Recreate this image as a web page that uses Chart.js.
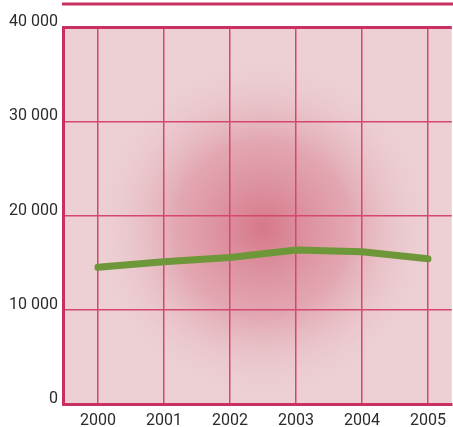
<!DOCTYPE html>
<html>
<head>
<meta charset="utf-8">
<script src="https://cdn.jsdelivr.net/npm/chart.js@4"></script>
<style>
  html, body { margin: 0; padding: 0; background: #fff; }
  #wrap { width: 453px; height: 427px; }
</style>
</head>
<body>
<div id="wrap"><canvas id="graf"></canvas></div>
<script>
// dados
const anos = [2000, 2001, 2002, 2003, 2004, 2005];
const valores = [14500, 15100, 15550, 16350, 16150, 15400];
const ticksY = [0, 10000, 20000, 30000, 40000];

const rosaBorda = '#c93060';
const rosaGrade = '#d6466f';

// fundo rosado com mancha radial no meio + linha de cima
const fundoPlugin = {
    id: 'fundo',
    beforeDraw(chart) {
        const { ctx, chartArea: a } = chart;
        ctx.save();
        ctx.fillStyle = '#ecd0d4';
        ctx.fillRect(a.left, a.top, a.right - a.left, a.bottom - a.top);
        const g = ctx.createRadialGradient(263, 228, 0, 263, 228, 175);
        g.addColorStop(0, 'rgba(214,120,137,1)');
        g.addColorStop(0.5, 'rgba(220,140,155,0.6)');
        g.addColorStop(1, 'rgba(236,208,212,0)');
        ctx.fillStyle = g;
        ctx.fillRect(a.left, a.top, a.right - a.left, a.bottom - a.top);
        // linha solta no topo
        ctx.strokeStyle = rosaBorda;
        ctx.lineWidth = 3;
        ctx.beginPath();
        ctx.moveTo(a.left - 1, 4);
        ctx.lineTo(chart.width, 4);
        ctx.stroke();
        ctx.restore();
    }
};

const fmt = v => v === 0 ? '0' : (v / 1000) + ' 000';

new Chart(document.getElementById('graf'), {
    type: 'line',
    data: {
        datasets: [{
            data: anos.map((a, i) => ({ x: a, y: valores[i] })),
            borderColor: '#6e973a',
            borderWidth: 7,
            borderCapStyle: 'round',
            borderJoinStyle: 'round',
            pointRadius: 0,
            tension: 0
        }]
    },
    options: {
        responsive: true,
        maintainAspectRatio: false,
        animation: false,
        layout: { padding: { top: 27, right: 0, left: 0, bottom: 0 } },
        plugins: { legend: { display: false }, tooltip: { enabled: false } },
        scales: {
            x: {
                type: 'linear',
                min: 1999.47,
                max: 2005.36,
                afterBuildTicks: s => { s.ticks = anos.map(v => ({ value: v })); },
                afterFit: s => { s.height = 23; },
                grid: { color: rosaGrade, lineWidth: 1.5, drawTicks: false },
                border: { color: rosaBorda, width: 3 },
                ticks: {
                    color: '#2b2b2b',
                    font: { family: 'Roboto', size: 16 },
                    padding: 7,
                    maxRotation: 0,
                    callback: v => String(v)
                }
            },
            y: {
                min: 0,
                max: 40000,
                afterBuildTicks: s => { s.ticks = ticksY.map(v => ({ value: v })); },
                afterFit: s => { s.width = 63; },
                grid: {
                    color: c => c.tick && c.tick.value === 40000 ? rosaBorda : rosaGrade,
                    lineWidth: c => c.tick && c.tick.value === 40000 ? 3 : 1.5,
                    drawTicks: false
                },
                border: { color: rosaBorda, width: 3 },
                ticks: {
                    color: '#2b2b2b',
                    font: { family: 'Roboto', size: 16 },
                    padding: 5,
                    labelOffset: -5,
                    callback: v => fmt(v)
                }
            }
        }
    },
    plugins: [fundoPlugin]
});
</script>
</body>
</html>
